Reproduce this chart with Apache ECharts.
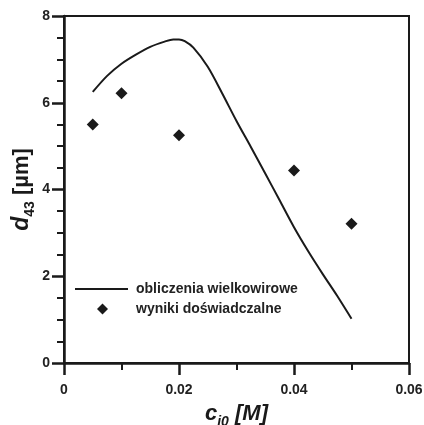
<!DOCTYPE html>
<html>
<head>
<meta charset="utf-8">
<script src="https://cdn.jsdelivr.net/npm/echarts@6/dist/echarts.min.js"></script>
<style>html,body{margin:0;padding:0;background:#fff}#c{width:424px;height:425px}</style>
</head>
<body>
<div id="c"></div>
<script>
// Model line: "obliczenia wielkowirowe"
const lineX = [0.005, 0.0075, 0.01, 0.0125, 0.015, 0.0175, 0.019, 0.02, 0.021, 0.0225, 0.025, 0.0275, 0.03, 0.0325, 0.035, 0.0375, 0.04, 0.0425, 0.045, 0.0475, 0.05];
const lineY = [6.25, 6.62, 6.90, 7.11, 7.29, 7.41, 7.46, 7.46, 7.42, 7.27, 6.83, 6.22, 5.58, 4.98, 4.37, 3.75, 3.13, 2.57, 2.05, 1.55, 1.02];
// Experimental: "wyniki doświadczalne"
const expX = [0.005, 0.01, 0.02, 0.04, 0.05];
const expY = [5.50, 6.22, 5.25, 4.44, 3.21];
const lineName = 'obliczenia wielkowirowe';
const expName = 'wyniki doświadczalne';

const FONT = 'Liberation Sans, Arial, sans-serif';
const INK = '#1a1a1a';
const chart = echarts.init(document.getElementById('c'));
chart.setOption({
  animation: false,
  grid: { left: 64, right: 15, top: 16, bottom: 62, show: true, borderColor: INK, borderWidth: 2, backgroundColor: 'transparent', outerBoundsMode: 'none', containLabel: false },
  legend: [
    { data: [{ name: lineName, icon: 'rect' }], left: 75, top: 282, padding: 0, orient: 'vertical', itemWidth: 53, itemHeight: 2,
      textStyle: { fontFamily: FONT, fontWeight: 'bold', fontSize: 14, color: '#222', padding: [0,0,0,3] } },
    { data: [{ name: expName, icon: 'diamond' }], left: 97, top: 302, padding: 0, orient: 'vertical', itemWidth: 11, itemHeight: 11,
      textStyle: { fontFamily: FONT, fontWeight: 'bold', fontSize: 14, color: '#222', padding: [0,0,0,23] } }
  ],
  xAxis: {
    type: 'value', min: 0, max: 0.06, interval: 0.02,
    name: '{i|c}{s|i0}{i| [M]}', nameLocation: 'middle', nameGap: 38, nameMoveOverlap: false,
    nameTextStyle: { rich: {
      i: { fontFamily: FONT, fontSize: 22, fontWeight: 'bold', fontStyle: 'italic', color: INK, lineHeight: 24, verticalAlign: 'bottom' },
      s: { fontFamily: FONT, fontSize: 14, fontWeight: 'bold', fontStyle: 'italic', color: INK, lineHeight: 18, verticalAlign: 'bottom', padding: [0,0,-4,0] }
    } },
    axisLine: { show: true, lineStyle: { color: INK, width: 2.5 } },
    axisTick: { show: true, length: 12, lineStyle: { color: INK, width: 2.5 } },
    minorTick: { show: true, splitNumber: 2, length: 7, lineStyle: { color: INK, width: 2 } },
    splitLine: { show: false },
    axisLabel: { margin: 20, fontFamily: FONT, fontWeight: 'bold', fontSize: 14, color: '#222' }
  },
  yAxis: {
    type: 'value', min: 0, max: 8, interval: 2,
    name: '{i|d}{s|43}{n| [µm]}', nameLocation: 'middle', nameGap: 31, nameMoveOverlap: false,
    nameTextStyle: { rich: {
      i: { fontFamily: FONT, fontSize: 23, fontWeight: 'bold', fontStyle: 'italic', color: INK, lineHeight: 24, verticalAlign: 'bottom' },
      s: { fontFamily: FONT, fontSize: 14, fontWeight: 'bold', color: INK, lineHeight: 18, verticalAlign: 'bottom', padding: [0,0,-4,0] },
      n: { fontFamily: FONT, fontSize: 22, fontWeight: 'bold', color: INK, lineHeight: 24, verticalAlign: 'bottom' }
    } },
    axisLine: { show: true, lineStyle: { color: INK, width: 2.5 } },
    axisTick: { show: true, length: 12, lineStyle: { color: INK, width: 2.5 } },
    minorTick: { show: true, splitNumber: 4, length: 7, lineStyle: { color: INK, width: 2 } },
    splitLine: { show: false },
    axisLabel: { margin: 14, fontFamily: FONT, fontWeight: 'bold', fontSize: 14, color: '#222' }
  },
  series: [
    { name: lineName, type: 'line', data: lineX.map((x, i) => [x, lineY[i]]), symbol: 'none', smooth: 0.3,
      lineStyle: { color: INK, width: 2 }, itemStyle: { color: INK } },
    { name: expName, type: 'scatter', data: expX.map((x, i) => [x, expY[i]]), symbol: 'diamond', symbolSize: 12,
      itemStyle: { color: INK, opacity: 1 } }
  ]
});
</script>
</body>
</html>
